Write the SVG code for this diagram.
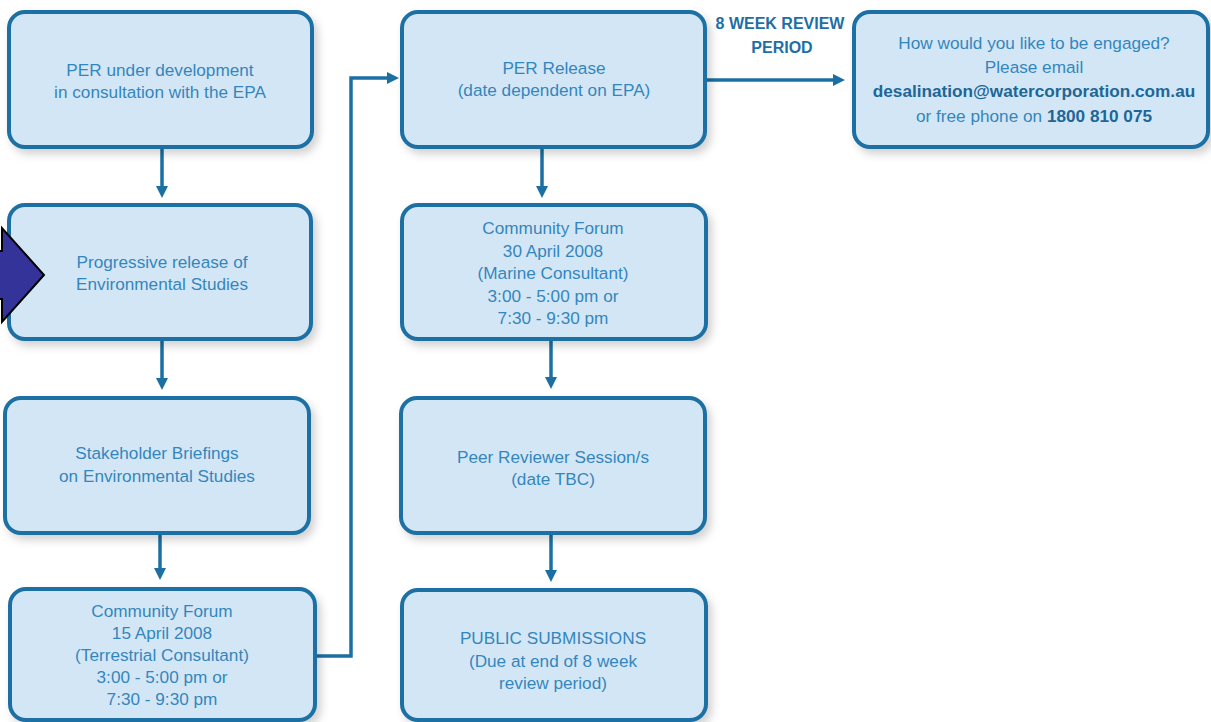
<svg xmlns="http://www.w3.org/2000/svg" width="1211" height="722" viewBox="0 0 1211 722">
<defs>
<style>
.box{fill:#d3e6f5;stroke:#1b6fa3;stroke-width:4}
.t{font-family:"Liberation Sans",Arial,sans-serif;font-size:17.2px;fill:#3386bd;text-anchor:middle}
.b{font-weight:bold;fill:#1d6698}
.lab{font-family:"Liberation Sans",Arial,sans-serif;font-size:16px;font-weight:bold;fill:#1d6fa5;text-anchor:middle}
.con{fill:none;stroke:#1b6fa3;stroke-width:3.5;marker-end:url(#ah)}
</style>
<marker id="ah" markerWidth="12" markerHeight="12" refX="7" refY="6" orient="auto" markerUnits="userSpaceOnUse" viewBox="0 0 12 12">
<path d="M0,0 L12,6 L0,12 Z" fill="#1b6fa3"/>
</marker>
<filter id="sh" x="-10%" y="-10%" width="125%" height="130%">
<feDropShadow dx="4" dy="5" stdDeviation="4" flood-color="#000" flood-opacity="0.18"/>
</filter>
</defs>
<rect width="1211" height="722" fill="#ffffff"/>

<g id="connectors">
<path class="con" d="M162,148 V193"/>
<path class="con" d="M162,340 V385"/>
<path class="con" d="M160,534 V575"/>
<path class="con" d="M316,656 H351 V78 H394"/>
<path class="con" d="M542,148 V193"/>
<path class="con" d="M551,340 V384"/>
<path class="con" d="M551,533 V577"/>
<path class="con" d="M706,80 H840"/>
</g>

<g id="n1"><rect class="box" filter="url(#sh)" x="9" y="12" width="303" height="135" rx="16"/>
<text class="t" x="160" y="76">PER under development</text>
<text class="t" x="160" y="98">in consultation with the EPA</text></g>

<g id="n2"><rect class="box" filter="url(#sh)" x="9" y="205" width="302" height="134" rx="16"/>
<text class="t" x="162" y="268">Progressive release of</text>
<text class="t" x="162" y="290">Environmental Studies</text></g>

<g id="n3"><rect class="box" filter="url(#sh)" x="5" y="398" width="304" height="135" rx="16"/>
<text class="t" x="157" y="459">Stakeholder Briefings</text>
<text class="t" x="157" y="482">on Environmental Studies</text></g>

<g id="n4"><rect class="box" filter="url(#sh)" x="10" y="589" width="305" height="131" rx="16"/>
<text class="t" x="162" y="617">Community Forum</text>
<text class="t" x="162" y="639">15 April 2008</text>
<text class="t" x="162" y="661">(Terrestrial Consultant)</text>
<text class="t" x="162" y="683">3:00 - 5:00 pm or</text>
<text class="t" x="162" y="705">7:30 - 9:30 pm</text></g>

<g id="n5"><rect class="box" filter="url(#sh)" x="402" y="12" width="303" height="135" rx="16"/>
<text class="t" x="554" y="74">PER Release</text>
<text class="t" x="554" y="96">(date dependent on EPA)</text></g>

<g id="n6"><rect class="box" filter="url(#sh)" x="402" y="205" width="304" height="134" rx="16"/>
<text class="t" x="553" y="234">Community Forum</text>
<text class="t" x="553" y="257">30 April 2008</text>
<text class="t" x="553" y="279">(Marine Consultant)</text>
<text class="t" x="553" y="302">3:00 - 5:00 pm or</text>
<text class="t" x="553" y="324">7:30 - 9:30 pm</text></g>

<g id="n7"><rect class="box" filter="url(#sh)" x="401" y="398" width="304" height="135" rx="16"/>
<text class="t" x="553" y="463">Peer Reviewer Session/s</text>
<text class="t" x="553" y="485">(date TBC)</text></g>

<g id="n8"><rect class="box" filter="url(#sh)" x="402" y="590" width="304" height="130" rx="16"/>
<text class="t" x="553" y="644">PUBLIC SUBMISSIONS</text>
<text class="t" x="553" y="667">(Due at end of 8 week</text>
<text class="t" x="553" y="689">review period)</text></g>

<g id="n9"><rect class="box" filter="url(#sh)" x="854" y="12" width="354" height="135" rx="16"/>
<text class="t" x="1034" y="49">How would you like to be engaged?</text>
<text class="t" x="1034" y="73">Please email</text>
<text class="t b" x="1034" y="97">desalination@watercorporation.com.au</text>
<text class="t" x="1034" y="122">or free phone on <tspan class="b">1800 810 075</tspan></text></g>

<g id="label"><text class="lab" x="780" y="29">8 WEEK REVIEW</text>
<text class="lab" x="782" y="53">PERIOD</text></g>

<g id="blockarrow"><path d="M-20,251 H2 V228 L44,275 L2,322 V299 H-20 Z" fill="#333399" stroke="#000" stroke-width="2"/></g>
</svg>
